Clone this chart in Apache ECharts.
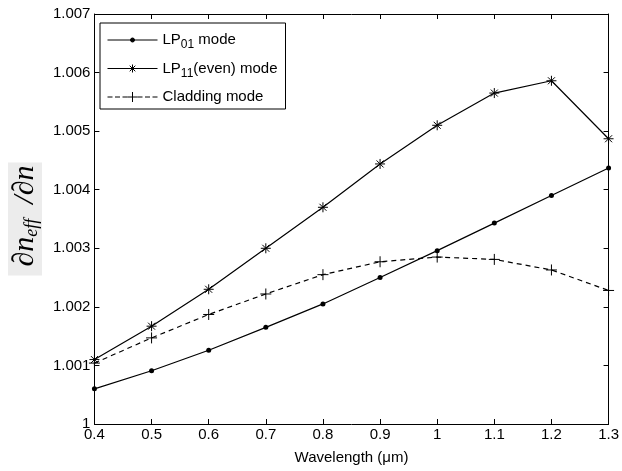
<!DOCTYPE html>
<html><head><meta charset="utf-8">
<script src="https://cdn.jsdelivr.net/npm/echarts@6/dist/echarts.min.js"></script>
<style>html,body{margin:0;padding:0;background:#fff}#c{width:622px;height:471px}</style>
</head><body><div id="c"></div>
<script>
const wavelengths = [0.4, 0.5, 0.6, 0.7, 0.8, 0.9, 1.0, 1.1, 1.2, 1.3];
const lp01 = [1.00060, 1.00091, 1.00126, 1.00165, 1.00205, 1.00250, 1.00296, 1.00343, 1.00390, 1.00437];
const lp11 = [1.00110, 1.00167, 1.00230, 1.00300, 1.00370, 1.00444, 1.00510, 1.00565, 1.00586, 1.00487];
const cladding = [1.00104, 1.00147, 1.00187, 1.00222, 1.00255, 1.00277, 1.00285, 1.00281, 1.00263, 1.00228];
const seriesNames = ['LP01', 'LP11', 'Cladding'];

const FONT = 'Liberation Sans, Arial, sans-serif';
const SERIF = 'Liberation Serif, Times New Roman, serif';
const asterisk = 'path://M5,0L5,10M0,5L10,5M1.5,1.5L8.5,8.5M8.5,1.5L1.5,8.5';
const plus = 'path://M5,0L5,10M0,5L10,5';

const pairs = arr => wavelengths.map((w, i) => [w, arr[i]]);
const chart = echarts.init(document.getElementById('c'), null, {renderer: 'canvas'});

const xFmt = v => Math.abs(v - 1) < 1e-9 ? '1' : v.toFixed(1);
const yFmt = v => Math.abs(v - 1) < 1e-9 ? '1' : v.toFixed(3);

const axisCommon = {
  axisLine: {show: true, onZero: false, lineStyle: {color: '#000', width: 1}},
  axisTick: {show: true, inside: true, length: 5, lineStyle: {color: '#000'}},
  splitLine: {show: false}
};

chart.setOption({
  animation: false,
  backgroundColor: '#fff',
  grid: {left: 87, top: 14, right: 13, bottom: 47, containLabel: false},
  xAxis: [
    Object.assign({
      type: 'value', min: 0.4, max: 1.3, interval: 0.1, position: 'bottom',
      axisLabel: {color: '#000', fontSize: 15, fontFamily: FONT, margin: 3, formatter: xFmt},
      name: 'Wavelength (\u03bcm)', nameLocation: 'middle', nameGap: 26,
      nameTextStyle: {color: '#000', fontSize: 15, fontFamily: FONT}
    }, axisCommon),
    Object.assign({
      type: 'value', min: 0.4, max: 1.3, interval: 0.1, position: 'top',
      axisLabel: {show: false}
    }, axisCommon)
  ],
  yAxis: [
    Object.assign({
      type: 'value', min: 1, max: 1.007, interval: 0.001, position: 'left',
      axisLabel: {color: '#000', fontSize: 15, fontFamily: FONT, margin: 4, formatter: yFmt},
      name: '{a|\u2202n}{e|eff}{a|  /\u2202n}', nameLocation: 'middle', nameGap: 46,
      nameTextStyle: {
        backgroundColor: '#ececec', padding: [1, 3, 1, 9],
        rich: {
          a: {fontFamily: SERIF, fontStyle: 'italic', fontSize: 30, lineHeight: 32, color: '#000'},
          e: {fontFamily: SERIF, fontStyle: 'italic', fontSize: 18, lineHeight: 14, verticalAlign: 'bottom', color: '#000'}
        }
      }
    }, axisCommon),
    Object.assign({
      type: 'value', min: 1, max: 1.007, interval: 0.001, position: 'right',
      axisLabel: {show: false}
    }, axisCommon)
  ],
  legend: {
    orient: 'vertical', left: 100, top: 23,
    backgroundColor: '#fff', borderColor: '#000', borderWidth: 1, borderRadius: 0,
    padding: [6, 8, 1, 7], itemGap: 6.5, itemWidth: 50, itemHeight: 14,
    selectedMode: false, symbolKeepAspect: true,
    itemStyle: {color: '#000', borderColor: '#000', borderWidth: 1},
    textStyle: {
      color: '#000', fontSize: 15, fontFamily: FONT, lineHeight: 22,
      rich: {s: {fontSize: 12, fontFamily: FONT, color: '#000', lineHeight: 12, verticalAlign: 'bottom'}}
    },
    formatter: n => n === 'LP01' ? 'LP{s|01} mode' : (n === 'LP11' ? 'LP{s|11}(even) mode' : 'Cladding mode'),
    data: [
      {name: 'LP01', icon: 'path://M0,5L50,5M23,5a2,2 0 1,0 4,0a2,2 0 1,0 -4,0'},
      {name: 'LP11', icon: 'path://M0,5L50,5M25,1L25,9M21,5L29,5M22.2,2.2L27.8,7.8M27.8,2.2L22.2,7.8'},
      {name: 'Cladding', icon: 'path://M0,5L5,5M7.5,5L12.5,5M15,5L20,5M30,5L35,5M37.5,5L42.5,5M45,5L50,5M25,0L25,10M20,5L30,5'}
    ]
  },
  series: [
    {
      name: 'LP01', type: 'line', data: pairs(lp01), symbol: 'circle', symbolSize: 5,
      lineStyle: {color: '#000', width: 1.2}, itemStyle: {color: '#000'}
    },
    {
      name: 'LP11', type: 'line', data: pairs(lp11), symbol: asterisk, symbolSize: 10, symbolKeepAspect: true,
      lineStyle: {color: '#000', width: 1.2}, itemStyle: {color: '#000', borderColor: '#000', borderWidth: 1}
    },
    {
      name: 'Cladding', type: 'line', data: pairs(cladding), symbol: plus, symbolSize: 11, symbolKeepAspect: true,
      lineStyle: {color: '#000', width: 1.2, type: [5, 4]}, itemStyle: {color: '#000', borderColor: '#000', borderWidth: 1}
    }
  ]
});
</script>
</body></html>
